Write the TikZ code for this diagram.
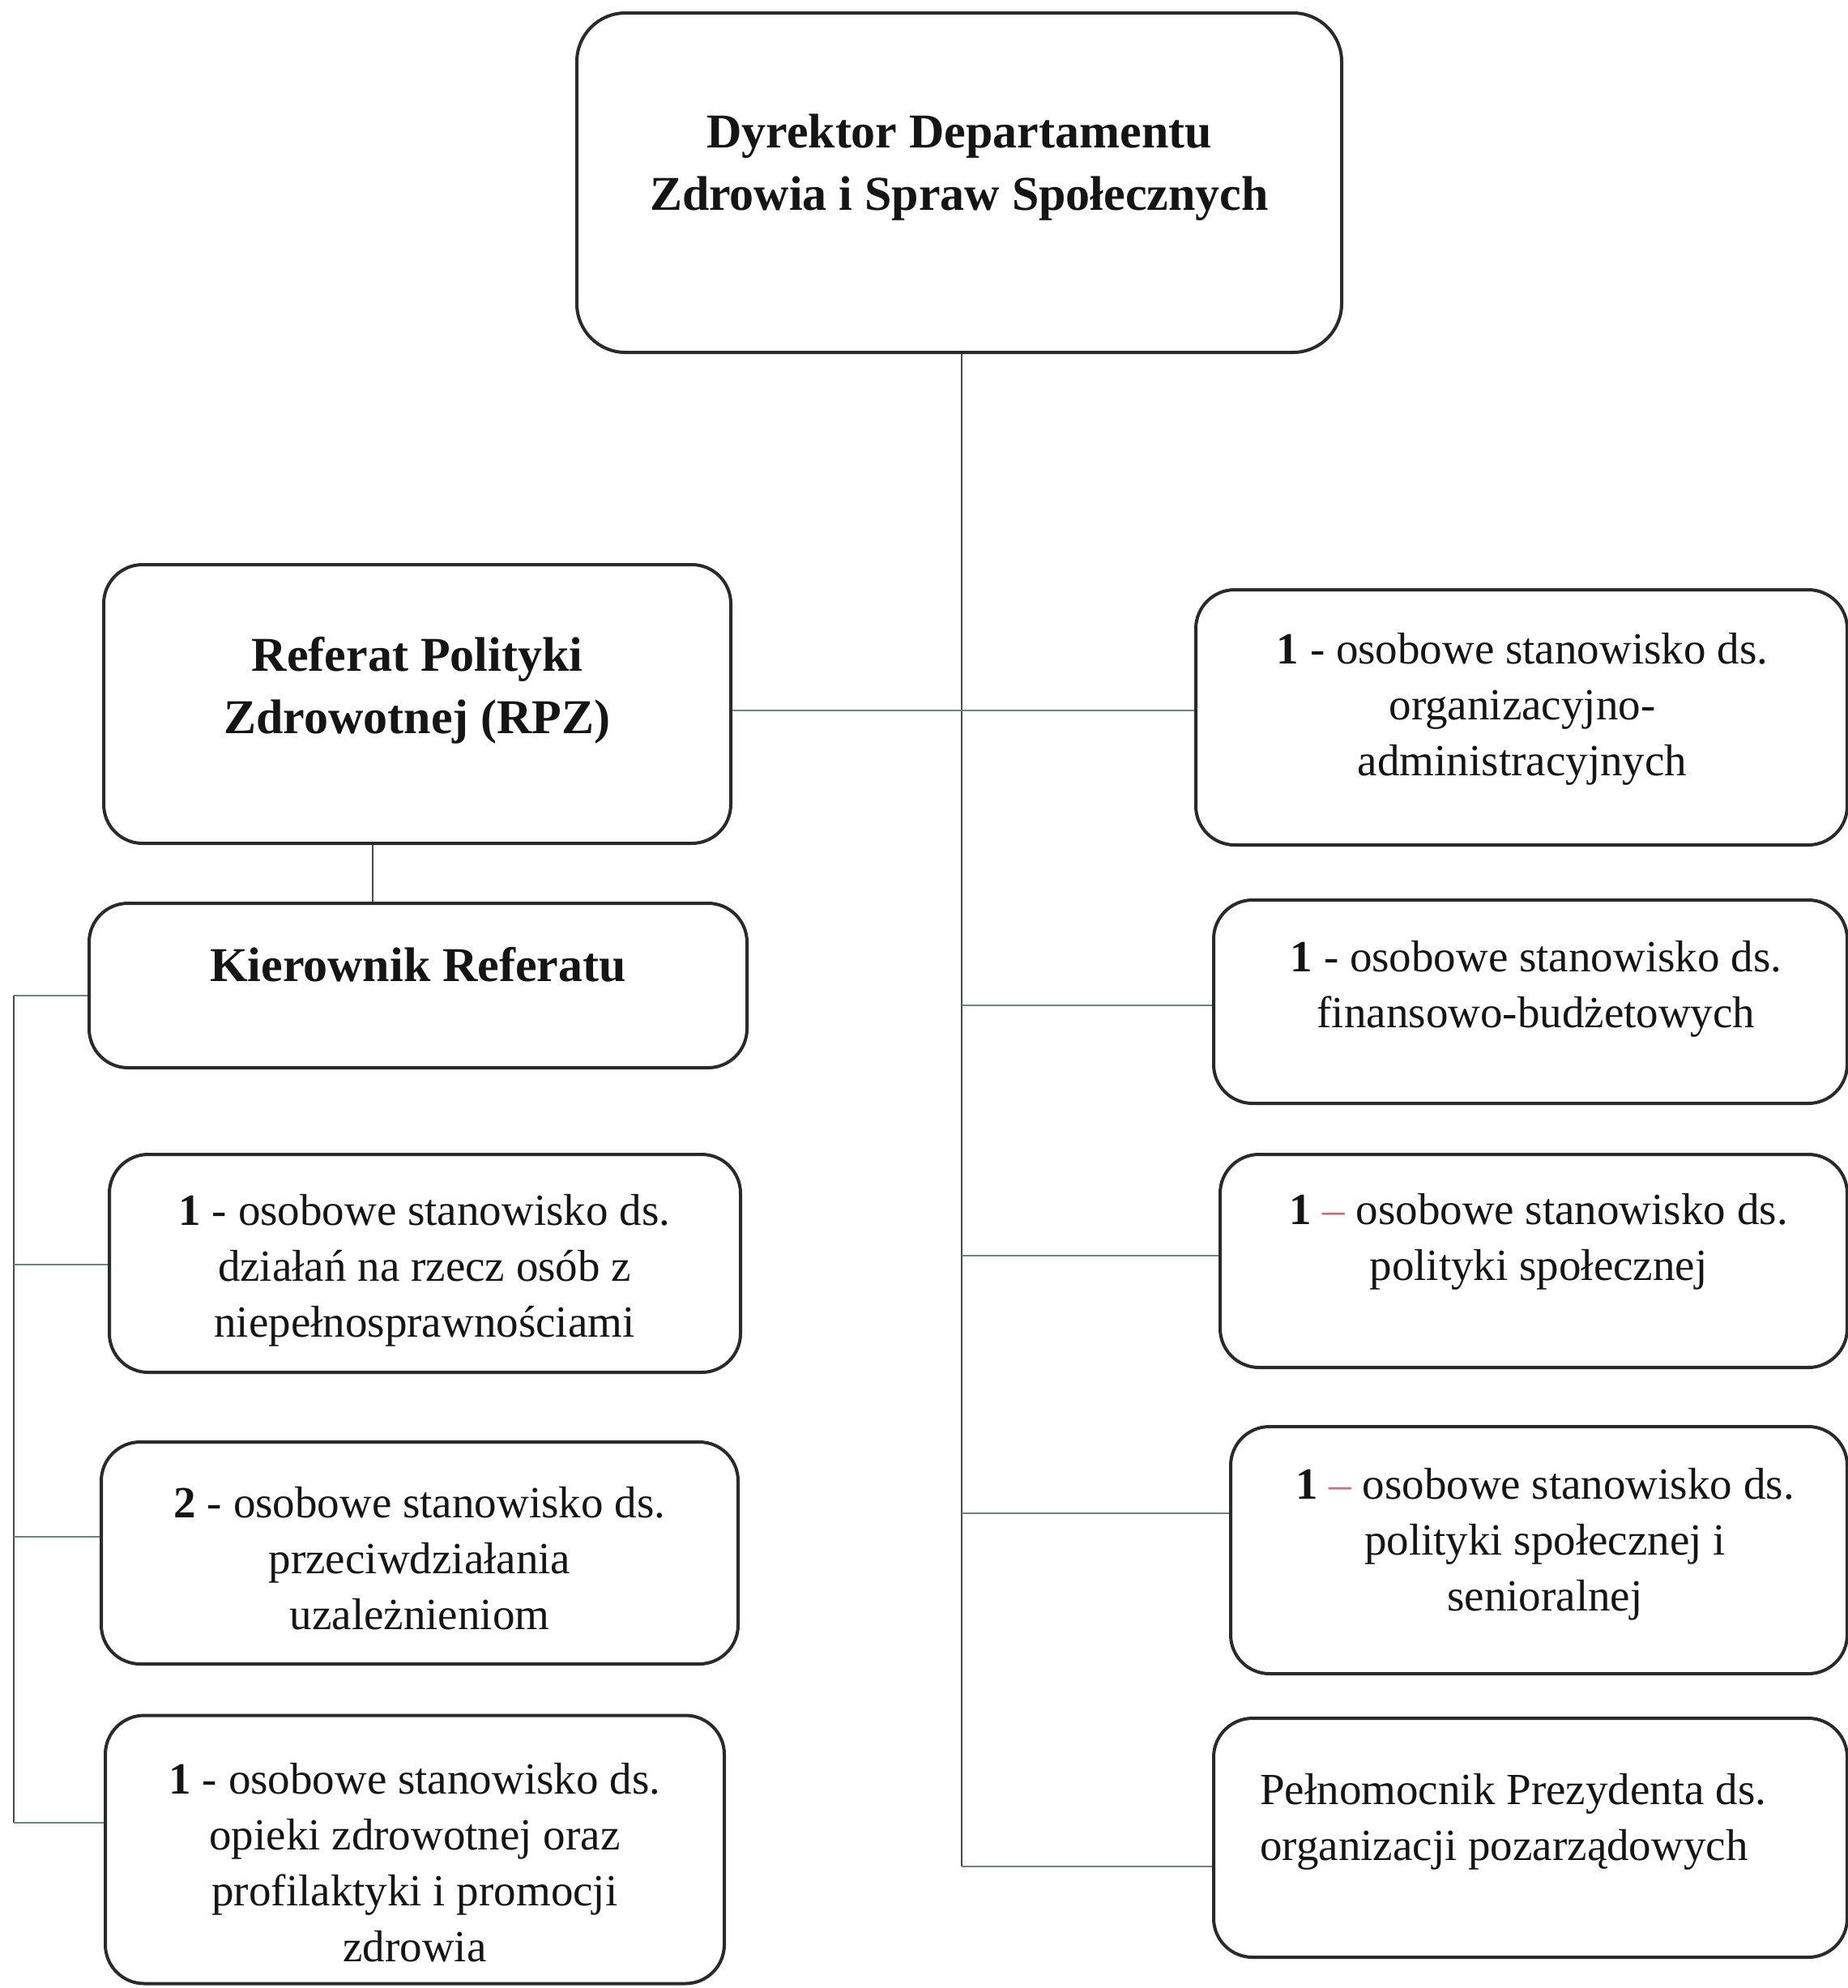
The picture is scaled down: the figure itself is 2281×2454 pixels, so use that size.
\documentclass[tikz,border=0pt]{standalone}
\usepackage{fontspec}
\setmainfont{Liberation Serif}
\definecolor{boxc}{HTML}{2A2A2A}
\definecolor{linec}{HTML}{6E8282}
\definecolor{busc}{HTML}{4A4A4A}
\definecolor{txt}{HTML}{151515}
\definecolor{dashc}{HTML}{C07080}
\begin{document}
\begin{tikzpicture}[x=0.5pt,y=-0.5pt,
  box/.style={draw=boxc,line width=2pt,rounded corners=24pt,inner sep=0pt},
  btext/.style={font=\fontsize{30}{38.5}\selectfont\bfseries,align=center,text=txt,inner sep=0pt},
  rtext/.style={font=\fontsize{27.5}{34.5}\selectfont,align=center,text=txt,inner sep=0pt},
  conn/.style={draw=linec,line width=1.1pt},
  bus/.style={draw=busc,line width=1pt}]
\useasboundingbox (0,0) rectangle (2281,2454);

% boxes
\node[box,rounded corners=30pt,minimum width=472pt,minimum height=209.5pt] (dir) at (1184,225.5) {};
\node[box,minimum width=387pt,minimum height=172pt] (rpz) at (515,869) {};
\node[box,minimum width=406pt,minimum height=101.5pt] (kier) at (516,1216.5) {};
\node[box,minimum width=389.5pt,minimum height=134.5pt] (l1) at (524.5,1559.5) {};
\node[box,minimum width=393pt,minimum height=137pt] (l2) at (518,1917) {};
\node[box,minimum width=382pt,minimum height=165.5pt] (l3) at (512,2283) {};
\node[box,minimum width=402pt,minimum height=157.5pt] (r1) at (1878,885.5) {};
\node[box,minimum width=391pt,minimum height=125.5pt] (r2) at (1889,1236.5) {};
\node[box,minimum width=387pt,minimum height=131.5pt] (r3) at (1893,1556.5) {};
\node[box,minimum width=380.5pt,minimum height=152.5pt] (r4) at (1899.5,1913.5) {};
\node[box,minimum width=391pt,minimum height=147.5pt] (r5) at (1889,2268.5) {};

% texts
\node[btext] (dir-t) at (1184,207) {Dyrektor Departamentu\\Zdrowia i Spraw Społecznych};
\node[btext] (rpz-t) at (515,852) {Referat Polityki\\Zdrowotnej (RPZ)};
\node[btext] (kier-t) at (516,1191) {Kierownik Referatu};
\node[rtext] (l1-t) at (524,1568) {\textbf{1} - osobowe stanowisko ds.\\działań na rzecz osób z\\niepełnosprawnościami};
\node[rtext] (l2-t) at (518,1924) {\textbf{2} - osobowe stanowisko ds.\\przeciwdziałania\\uzależnieniom};
\node[rtext] (l3-t) at (512,2299) {\textbf{1} - osobowe stanowisko ds.\\opieki zdrowotnej oraz\\profilaktyki i promocji\\zdrowia};
\node[rtext] (r1-t) at (1879,875) {\textbf{1} - osobowe stanowisko ds.\\organizacyjno-\\administracyjnych};
\node[rtext] (r2-t) at (1896,1221) {\textbf{1} - osobowe stanowisko ds.\\finansowo-budżetowych};
\node[rtext] (r3-t) at (1899,1533) {\textbf{1} {\color{dashc}–} osobowe stanowisko ds.\\polityki społecznej};
\node[rtext] (r4-t) at (1907,1906) {\textbf{1} {\color{dashc}–} osobowe stanowisko ds.\\polityki społecznej i\\senioralnej};
\node[rtext,align=left,anchor=west] (r5-t) at (1555,2249) {Pełnomocnik Prezydenta ds.\\organizacji pozarządowych};

% junction coordinates
\coordinate (j1) at (1187,877);
\coordinate (j2) at (1187,1241);
\coordinate (j3) at (1187,1550);
\coordinate (j4) at (1187,1868);
\coordinate (j5) at (1187,2304);
\coordinate (m) at (460,0);
\coordinate (k0) at (17,1229);
\coordinate (k1) at (17,1561);
\coordinate (k2) at (17,1897);
\coordinate (k3) at (17,2250);

% connectors
\draw[bus] (dir.south -| j1) -- (j5);
\draw[conn] (rpz.east |- j1) -- (r1.west |- j1);
\draw[conn] (j2) -- (r2.west |- j2);
\draw[conn] (j3) -- (r3.west |- j3);
\draw[conn] (j4) -- (r4.west |- j4);
\draw[conn] (j5) -- (r5.west |- j5);
\draw[bus] (rpz.south -| m) -- (kier.north -| m);
\draw[conn] (kier.west |- k0) -- (k0);
\draw[bus] (k0) -- (k3);
\draw[conn] (k1) -- (l1.west |- k1);
\draw[conn] (k2) -- (l2.west |- k2);
\draw[conn] (k3) -- (l3.west |- k3);
\end{tikzpicture}
\end{document}
